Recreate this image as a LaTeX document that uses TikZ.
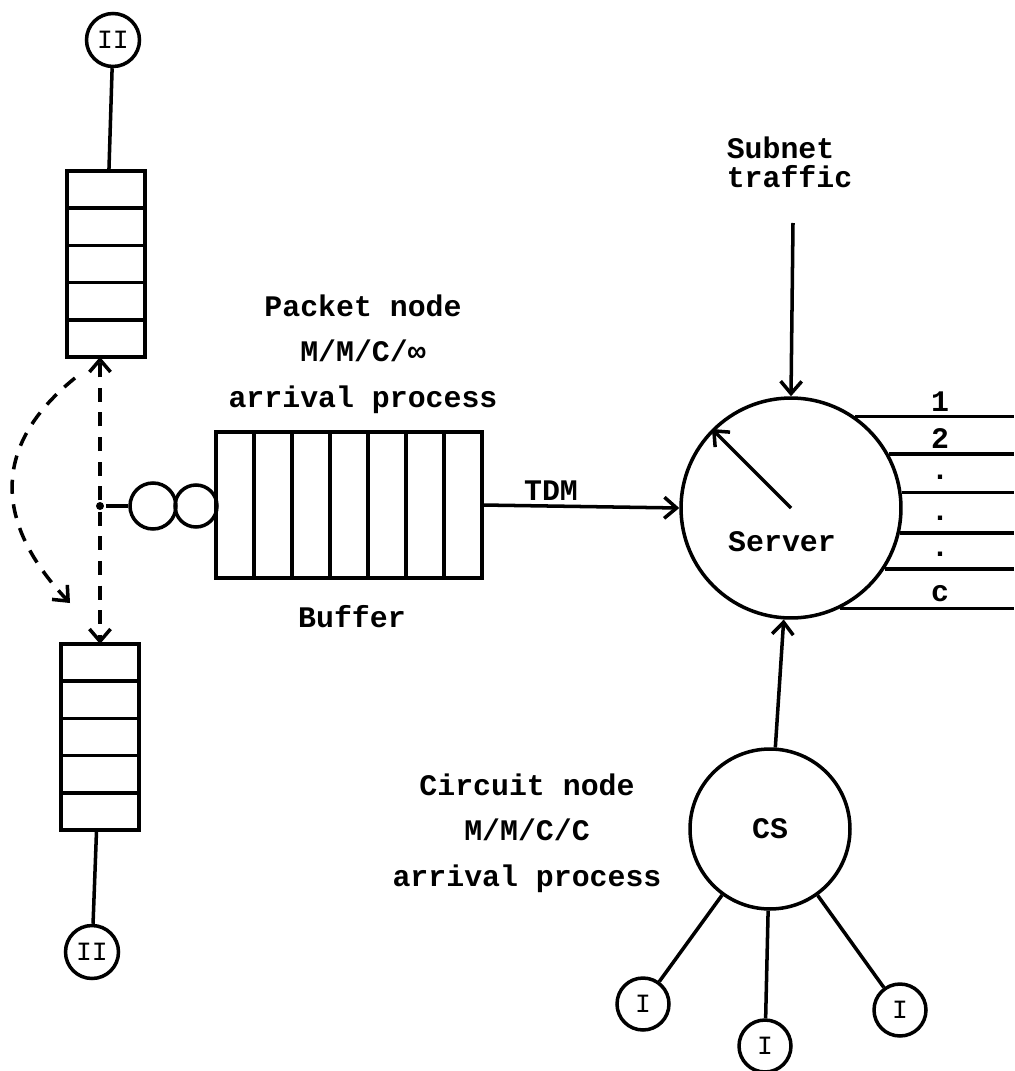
\documentclass[tikz,border=0pt]{standalone}
\usepackage{fontspec}
\newfontfamily\typer{Liberation Mono}[BoldFont={Liberation Mono Bold}]
\usetikzlibrary{arrows.meta, positioning, calc}

\begin{document}
\begin{tikzpicture}[x=0.02cm, y=-0.02cm, line width=2pt,
  every node/.style={font=\typer\bfseries\fontsize{17}{20}\selectfont},
  arr/.style={-{Straight Barb[length=7pt,width=12pt]}},
  darr/.style={arr, dash pattern=on 8pt off 6pt},
  station/.style={draw, circle, inner sep=0pt, minimum size=1.06cm, font=\typer\fontsize{15}{18}\selectfont},
  queue/.style={draw, inner sep=0pt, outer sep=0pt, minimum width=1.56cm, minimum height=3.72cm}]
  \useasboundingbox (0,0) rectangle (1014,1071);

  % Type II sources and their queues
  \node[station] (ii1) at (113,40) {II};
  \node[queue] (tq) at (106,264) {};
  \node[queue] (bq) at (100,737) {};
  \node[station] (ii2) at (92,952) {II};
  \foreach \k in {1,...,4} {
    \draw ($(tq.north west)!\k/5!(tq.south west)$) -- ($(tq.north east)!\k/5!(tq.south east)$);
    \draw ($(bq.north west)!\k/5!(bq.south west)$) -- ($(bq.north east)!\k/5!(bq.south east)$);
  }
  \draw (ii1) -- (tq);
  \draw (bq) -- (ii2);

  % Switch point
  \node[circle, fill, inner sep=0pt, minimum size=0.16cm] (fork) at (100,506) {};
  \draw[darr] (fork) -- (fork |- tq.south);
  \draw[darr] (fork) -- (fork |- bq.north);
  \coordinate (swapA) at (75,378);
  \coordinate (swapB) at (70,603);
  \draw[darr] (swapA) .. controls (-24,458) and (10,540) .. (swapB);

  % Packet node
  \node[draw, circle, inner sep=0pt, minimum size=0.92cm] (q1) at (153,506) {};
  \node[draw, circle, inner sep=0pt, minimum size=0.84cm] (q2) at (196,506) {};
  \node[draw, inner sep=0pt, outer sep=0pt, minimum width=5.32cm, minimum height=2.92cm] (buffer) at (349,505) {};
  \foreach \k in {1,...,6}
    \draw ($(buffer.north west)!\k/7!(buffer.north east)$) -- ($(buffer.south west)!\k/7!(buffer.south east)$);
  \draw (fork) -- (q1);
  \node[align=center, font=\typer\bfseries\fontsize{17}{26}\selectfont] (pktlbl) at (363,354) {Packet node\\M/M/C/∞\\arrival process};
  \node (buflbl) at (352,617) {Buffer};

  % Server
  \node[draw, circle, minimum size=4.4cm, inner sep=0pt] (server) at (791,508) {};
  \node (srvlbl) at (782,542) {Server};
  \draw[arr] (server.center) -- (server.135);
  \draw[arr] (buffer.east) -- (server.west) node[pos=0.35, above, inner sep=2pt] (tdm) {TDM};

  % Subnet traffic
  \node[anchor=west, align=left, inner sep=0pt, font=\typer\bfseries\fontsize{17}{16.5}\selectfont] (subnet) at (725,162) {Subnet\\traffic};
  \coordinate (feed) at (793,223);
  \draw[arr] (feed) -- (server.north);

  % Output channels
  \coordinate (rim) at (1014,0);
  \coordinate (chx) at (940,0);
  \foreach \a/\l [count=\k] in {55/1, 29/2, 8/., 347/., 327/., 296/c} {
    \draw (server.\a) -- (server.\a -| rim);
    \node[yshift=0.3cm, inner sep=0pt] (ch\k) at (server.\a -| chx) {\l};
  }

  % Circuit node
  \node[draw, circle, minimum size=3.2cm, inner sep=0pt] (cs) at (770,829) {CS};
  \draw[arr] (cs) -- (server);
  \node[align=center, font=\typer\bfseries\fontsize{17}{26}\selectfont] (cktlbl) at (527,833) {Circuit node\\M/M/C/C\\arrival process};
  \node[station, minimum size=1.04cm] (i1) at (643,1004) {I};
  \node[station, minimum size=1.04cm] (i2) at (765,1046) {I};
  \node[station, minimum size=1.04cm] (i3) at (900,1010) {I};
  \draw (cs) -- (i1);
  \draw (cs) -- (i2);
  \draw (cs) -- (i3);
\end{tikzpicture}
\end{document}
